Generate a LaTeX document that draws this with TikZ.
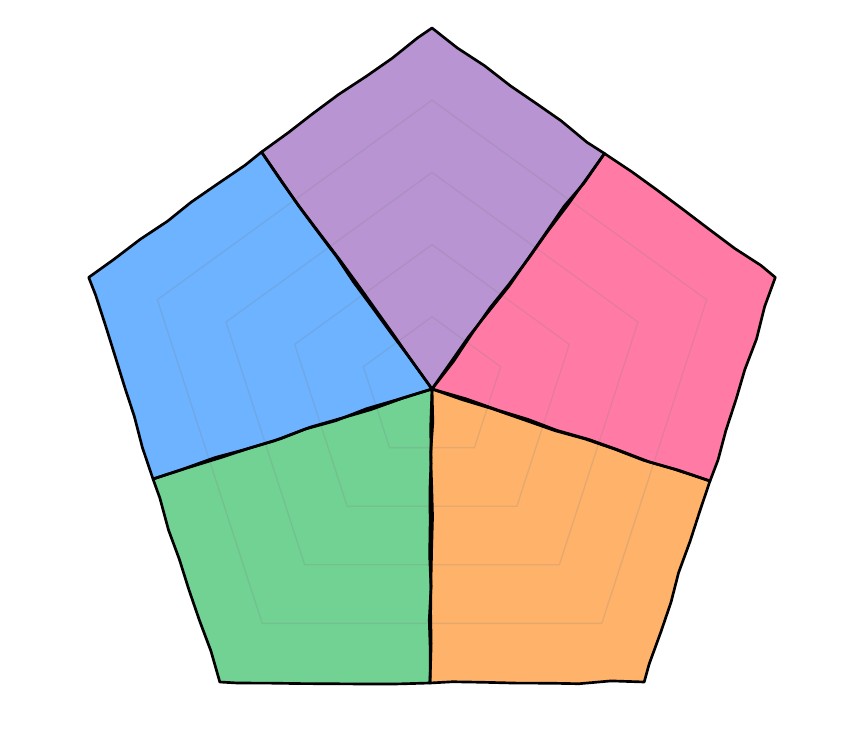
\documentclass[tikz,border=0pt]{standalone}
\usetikzlibrary{decorations.pathmorphing,calc}
\definecolor{cpurple}{HTML}{B894D2}
\definecolor{cblue}{HTML}{6DB3FF}
\definecolor{cpink}{HTML}{FF7BA5}
\definecolor{cgreen}{HTML}{71D294}
\definecolor{corange}{HTML}{FFB26A}
\tikzset{
  rough/.style={decorate, decoration={random steps, segment length=24pt, amplitude=1.1pt}},
  sector/.style={draw=black, line width=2pt, line join=round, rough},
  sectorfill/.style={rough},
  gridline/.style={draw=gray, opacity=0.2, line width=1pt}
}
\begin{document}
\begin{tikzpicture}[x=0.75pt,y=-0.75pt]
\useasboundingbox (0,0) rectangle (862,738);
\coordinate (C) at (432,389);
\coordinate (V0) at (432,28);
\coordinate (V1) at (775.3,277.4);
\coordinate (V2) at (644.2,682);
\coordinate (V3) at (219.8,682);
\coordinate (V4) at (88.7,277.4);
\coordinate (M01) at (604.5,153.5);
\coordinate (M12) at (710,481);
\coordinate (M23) at (430,683);
\coordinate (M34) at (153,479);
\coordinate (M40) at (261.5,152);
% fills
\pgfmathsetseed{11}\fill[cpurple,sectorfill] (C) -- (M40) -- (V0) -- (M01) -- cycle;
\pgfmathsetseed{12}\fill[cpink,sectorfill] (C) -- (M01) -- (V1) -- (M12) -- cycle;
\pgfmathsetseed{13}\fill[corange,sectorfill] (C) -- (M12) -- (V2) -- (M23) -- cycle;
\pgfmathsetseed{14}\fill[cgreen,sectorfill] (C) -- (M23) -- (V3) -- (M34) -- cycle;
\pgfmathsetseed{15}\fill[cblue,sectorfill] (C) -- (M34) -- (V4) -- (M40) -- cycle;
% grid
\foreach \r in {0.2,0.4,0.6,0.8} {
  \draw[gridline] ($(C)!\r!(V0)$) -- ($(C)!\r!(V1)$) -- ($(C)!\r!(V2)$) -- ($(C)!\r!(V3)$) -- ($(C)!\r!(V4)$) -- cycle;
}
% outlines
\pgfmathsetseed{11}\draw[sector] (C) -- (M40) -- (V0) -- (M01) -- cycle;
\pgfmathsetseed{12}\draw[sector] (C) -- (M01) -- (V1) -- (M12) -- cycle;
\pgfmathsetseed{13}\draw[sector] (C) -- (M12) -- (V2) -- (M23) -- cycle;
\pgfmathsetseed{14}\draw[sector] (C) -- (M23) -- (V3) -- (M34) -- cycle;
\pgfmathsetseed{15}\draw[sector] (C) -- (M34) -- (V4) -- (M40) -- cycle;
\end{tikzpicture}
\end{document}
